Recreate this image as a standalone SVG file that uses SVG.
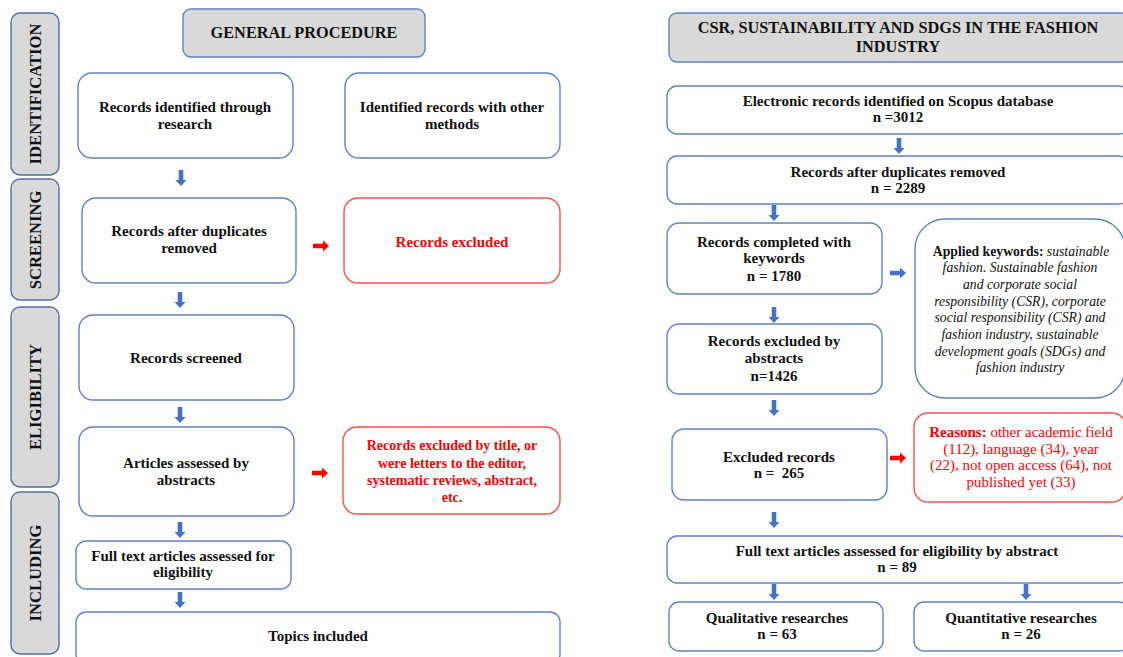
<svg xmlns="http://www.w3.org/2000/svg" width="1123" height="657" viewBox="0 0 1123 657">
<style>
.box{fill:#fff;stroke:#5f83c2;stroke-width:1.4}
.red{fill:#fff;stroke:#ff4d4d;stroke-width:1.4}
.hdr{fill:#d9d9d9;stroke:#5f83c2;stroke-width:1.4}
.side{fill:#d9d9d9;stroke:#4f6fa3;stroke-width:1.4}
text{font-family:'Liberation Serif','Times New Roman',serif;font-size:15px;font-weight:bold;fill:#111;text-anchor:middle}
.h{font-size:16.3px}
.v{font-size:16.6px}
.rt{fill:#ff0000}
.s14{font-size:14px}
.n{font-weight:normal}
.kw{font-size:13.7px}
.it{font-weight:normal;font-style:italic;font-size:13.7px}
.ab{fill:#4472c4}
.ar{fill:#ff0000}
</style>
<defs>
<path id="dn" d="M-2.3,0 H2.3 V10 H5.5 L0,16 L-5.5,10 H-2.3 Z"/>
<path id="rt" d="M0,-2.3 H10 V-5.5 L16,0 L10,5.5 V2.3 H0 Z"/>
</defs>

<g id="stage-identification"><rect class="side" x="11" y="13" width="48" height="162" rx="9"/><text class="v" transform="translate(41,94) rotate(-90)">IDENTIFICATION</text></g>
<g id="stage-screening"><rect class="side" x="11" y="179" width="48" height="121" rx="9"/><text class="v" transform="translate(41,240) rotate(-90)">SCREENING</text></g>
<g id="stage-eligibility"><rect class="side" x="11" y="307" width="48" height="180" rx="9"/><text class="v" transform="translate(41,397) rotate(-90)">ELIGIBILITY</text></g>
<g id="stage-including"><rect class="side" x="11" y="492" width="48" height="162" rx="9"/><text class="v" transform="translate(41,573) rotate(-90)">INCLUDING</text></g>

<g id="general-procedure"><rect class="hdr" x="183" y="9" width="242" height="48" rx="8"/><text class="h" x="304" y="38">GENERAL PROCEDURE</text></g>
<g id="records-identified"><rect class="box" x="78" y="73" width="215" height="85" rx="14"/><text x="185" y="112">Records identified through</text><text x="185" y="129">research</text></g>
<g id="identified-other"><rect class="box" x="345" y="73" width="215" height="85" rx="14"/><text x="452" y="112">Identified records with other</text><text x="452" y="129">methods</text></g>
<g id="after-duplicates"><rect class="box" x="82" y="198" width="214" height="85" rx="14"/><text x="189" y="236">Records after duplicates</text><text x="189" y="253">removed</text></g>
<g id="records-excluded"><rect class="red" x="344" y="198" width="216" height="85" rx="14"/><text class="rt" x="452" y="247">Records excluded</text></g>
<g id="records-screened"><rect class="box" x="79" y="315" width="215" height="85" rx="14"/><text x="186" y="363">Records screened</text></g>
<g id="articles-abstracts"><rect class="box" x="79" y="427" width="215" height="89" rx="14"/><text x="186" y="468">Articles assessed by</text><text x="186" y="485">abstracts</text></g>
<g id="excluded-title"><rect class="red" x="343" y="427" width="217" height="87" rx="14"/><text class="rt s14" x="452" y="450">Records excluded by title, or</text><text class="rt s14" x="452" y="468">were letters to the editor,</text><text class="rt s14" x="452" y="485">systematic reviews, abstract,</text><text class="rt s14" x="452" y="502">etc.</text></g>
<g id="full-text-left"><rect class="box" x="76" y="541" width="215" height="48" rx="10"/><text x="183" y="561">Full text articles assessed for</text><text x="183" y="577">eligibility</text></g>
<g id="topics-included"><rect class="box" x="76" y="612" width="484" height="52" rx="10"/><text x="318" y="641">Topics included</text></g>

<g id="csr-header"><rect class="hdr" x="669" y="13" width="460" height="49" rx="8"/><text class="h" x="898" y="33">CSR, SUSTAINABILITY AND SDGS IN THE FASHION</text><text class="h" x="898" y="52">INDUSTRY</text></g>
<g id="electronic-records"><rect class="box" x="667" y="86" width="462" height="48" rx="10"/><text x="898" y="106">Electronic records identified on Scopus database</text><text x="898" y="122">n =3012</text></g>
<g id="after-duplicates-r"><rect class="box" x="667" y="156" width="462" height="48" rx="10"/><text x="898" y="177">Records after duplicates removed</text><text x="898" y="193">n = 2289</text></g>
<g id="completed-keywords"><rect class="box" x="667" y="223" width="215" height="71" rx="12"/><text x="774" y="247">Records completed with</text><text x="774" y="263">keywords</text><text x="774" y="281">n = 1780</text></g>
<g id="applied-keywords"><rect class="box" x="915" y="219" width="210" height="179" rx="30"/>
<text class="kw" x="1021" y="256"><tspan>Applied keywords: </tspan><tspan class="it">sustainable</tspan></text>
<text class="it" x="1020" y="272">fashion. Sustainable fashion</text>
<text class="it" x="1020" y="289">and corporate social</text>
<text class="it" x="1020" y="306">responsibility (CSR), corporate</text>
<text class="it" x="1020" y="322">social responsibility (CSR) and</text>
<text class="it" x="1020" y="339">fashion industry, sustainable</text>
<text class="it" x="1020" y="356">development goals (SDGs) and</text>
<text class="it" x="1020" y="372">fashion industry</text></g>
<g id="excluded-abstracts"><rect class="box" x="667" y="324" width="215" height="70" rx="12"/><text x="774" y="346">Records excluded by</text><text x="774" y="363">abstracts</text><text x="774" y="381">n=1426</text></g>
<g id="excluded-records"><rect class="box" x="672" y="429" width="215" height="71" rx="12"/><text x="779" y="462">Excluded records</text><text x="779" y="478" xml:space="preserve">n =  265</text></g>
<g id="reasons"><rect class="red" x="914" y="413" width="212" height="89" rx="14"/>
<text class="rt" x="1021" y="437"><tspan>Reasons: </tspan><tspan class="n">other academic field</tspan></text>
<text class="rt n" x="1021" y="454">(112), language (34), year</text>
<text class="rt n" x="1021" y="470">(22), not open access (64), not</text>
<text class="rt n" x="1021" y="487">published yet (33)</text></g>
<g id="full-text-right"><rect class="box" x="667" y="536" width="462" height="47" rx="10"/><text x="897" y="556">Full text articles assessed for eligibility by abstract</text><text x="897" y="572">n = 89</text></g>
<g id="qualitative"><rect class="box" x="669" y="602" width="214" height="49" rx="10"/><text x="777" y="623">Qualitative researches</text><text x="777" y="639">n = 63</text></g>
<g id="quantitative"><rect class="box" x="914" y="602" width="215" height="49" rx="10"/><text x="1021" y="623">Quantitative researches</text><text x="1021" y="639">n = 26</text></g>

<g id="connectors">
<use href="#dn" class="ab" x="181" y="170"/>
<use href="#dn" class="ab" x="180" y="292"/>
<use href="#dn" class="ab" x="180" y="407"/>
<use href="#dn" class="ab" x="180" y="522"/>
<use href="#dn" class="ab" x="180" y="592"/>
<use href="#rt" class="ar" x="313" y="246"/>
<use href="#rt" class="ar" x="312" y="473"/>
<use href="#dn" class="ab" x="899" y="138"/>
<use href="#dn" class="ab" x="774" y="205"/>
<use href="#rt" class="ab" x="890" y="273"/>
<use href="#dn" class="ab" x="774" y="307"/>
<use href="#dn" class="ab" x="774" y="400"/>
<use href="#rt" class="ar" x="890" y="458"/>
<use href="#dn" class="ab" x="774" y="512"/>
<use href="#dn" class="ab" x="774" y="584"/>
<use href="#dn" class="ab" x="1026" y="584"/>
</g>
</svg>
